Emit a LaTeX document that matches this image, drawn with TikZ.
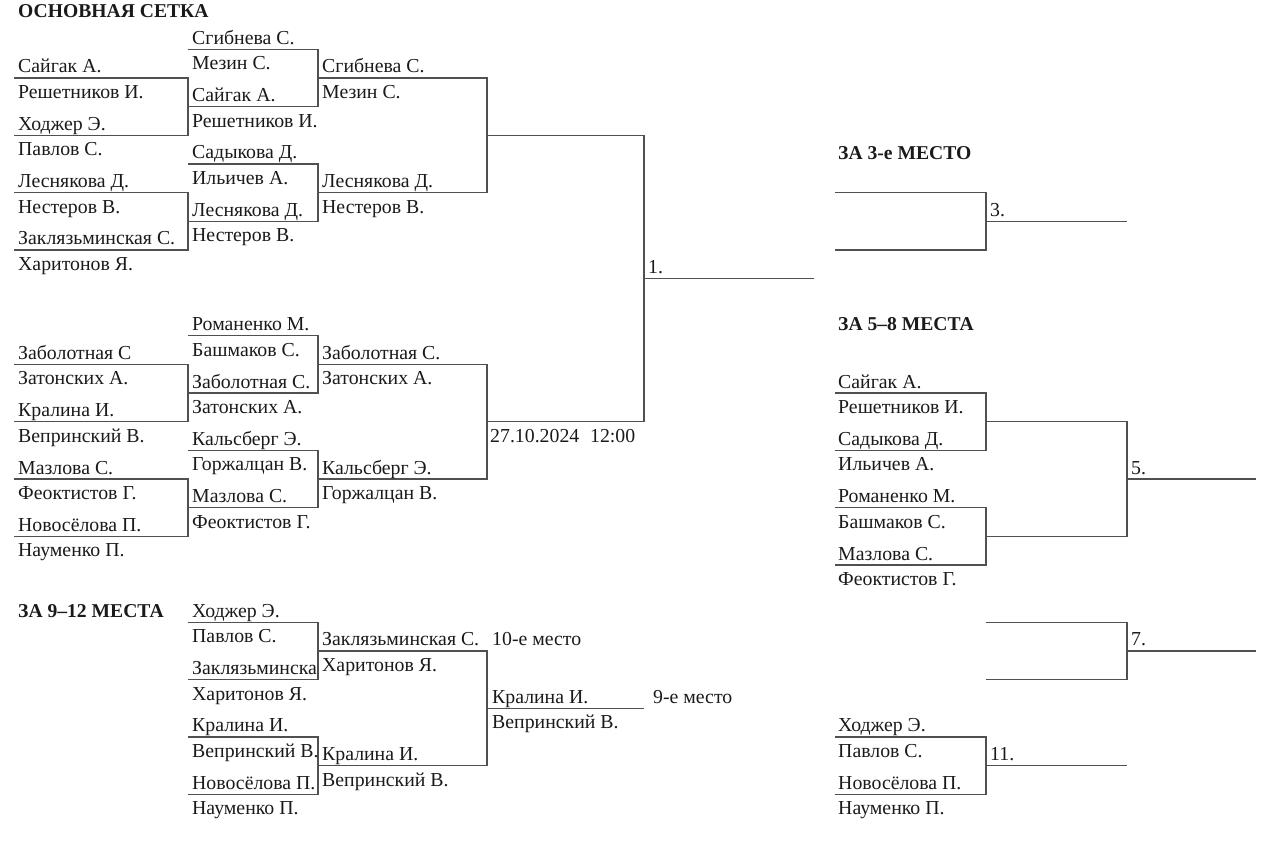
\documentclass[tikz,border=0pt]{standalone}
\usepackage{fontspec}
\setmainfont{Liberation Serif}
\definecolor{lncol}{HTML}{505050}
\definecolor{txcol}{HTML}{1A1A1A}
\newcommand\Yk[1]{(49.3+28.65*(#1))}
\tikzset{
  lbl/.style={anchor=base west, inner sep=0pt, text=txcol, font=\fontsize{19.8}{23}\selectfont},
  hd/.style={lbl, font=\fontsize{19.6}{23}\selectfont\bfseries},
  ln/.style={draw=lncol, line width=1.3pt, line join=miter},
}
\newcommand\lblup[4]{\node[lbl] (#1) at (#2,{\Yk{#3}-5}) {#4};}
\newcommand\lbldn[4]{\node[lbl] (#1) at (#2,{\Yk{#3}+20.5}) {#4};}
\newcommand\bpair[4]{\draw[ln] (#1,{\Yk{#3}}) -| (#2,{\Yk{#4}}) -- (#1,{\Yk{#4}});}
\newcommand\hseg[3]{\draw[ln] (#1,{\Yk{#3}}) -- (#2,{\Yk{#3}});}
\begin{document}
\begin{tikzpicture}[x=1pt,y=-1pt]
\useasboundingbox (0,0) rectangle (1280,854);
% headings
\node[hd] (hmain) at (18,17.5) {ОСНОВНАЯ СЕТКА};
\node[hd] (h3) at (838,159) {ЗА 3-е МЕСТО};
\node[hd] (h58) at (838,330) {ЗА 5–8 МЕСТА};
\node[hd] (h912) at (18,617) {ЗА 9–12 МЕСТА};
% ---------- main bracket lines
\bpair{14}{188}{1}{3}
\bpair{14}{188}{5}{7}
\bpair{188}{318}{0}{2}
\bpair{188}{318}{4}{6}
\bpair{318}{487}{1}{5}
\bpair{487}{644}{3}{13}
\hseg{644}{814}{8}
\bpair{14}{188}{11}{13}
\bpair{14}{188}{15}{17}
\bpair{188}{318}{10}{12}
\bpair{188}{318}{14}{16}
\bpair{318}{487}{11}{15}
% ---------- 9-12 lines
\bpair{188}{318}{20}{22}
\bpair{188}{318}{24}{26}
\bpair{318}{487}{21}{25}
\hseg{487}{644}{23}
% ---------- right side lines
\bpair{835}{986}{5}{7}
\hseg{986}{1127}{6}
\bpair{835}{986}{12}{14}
\bpair{835}{986}{16}{18}
\bpair{986}{1127}{13}{17}
\hseg{1127}{1256}{15}
\bpair{986}{1127}{20}{22}
\hseg{1127}{1256}{21}
\bpair{835}{986}{24}{26}
\hseg{986}{1127}{25}
% ---------- main column A
\lblup{a1}{18}{1}{Сайгак А.}
\lbldn{a2}{18}{1}{Решетников И.}
\lblup{a3}{18}{3}{Ходжер Э.}
\lbldn{a4}{18}{3}{Павлов С.}
\lblup{a5}{18}{5}{Леснякова Д.}
\lbldn{a6}{18}{5}{Нестеров В.}
\lblup{a7}{18}{7}{Заклязьминская С.}
\lbldn{a8}{18}{7}{Харитонов Я.}
\lblup{a9}{18}{11}{Заболотная С}
\lbldn{a10}{18}{11}{Затонских А.}
\lblup{a11}{18}{13}{Кралина И.}
\lbldn{a12}{18}{13}{Вепринский В.}
\lblup{a13}{18}{15}{Мазлова С.}
\lbldn{a14}{18}{15}{Феоктистов Г.}
\lblup{a15}{18}{17}{Новосёлова П.}
\lbldn{a16}{18}{17}{Науменко П.}
% ---------- main column B
\lblup{b1}{192}{0}{Сгибнева С.}
\lbldn{b2}{192}{0}{Мезин С.}
\lblup{b3}{192}{2}{Сайгак А.}
\lbldn{b4}{192}{2}{Решетников И.}
\lblup{b5}{192}{4}{Садыкова Д.}
\lbldn{b6}{192}{4}{Ильичев А.}
\lblup{b7}{192}{6}{Леснякова Д.}
\lbldn{b8}{192}{6}{Нестеров В.}
\lblup{b9}{192}{10}{Романенко М.}
\lbldn{b10}{192}{10}{Башмаков С.}
\lblup{b11}{192}{12}{Заболотная С.}
\lbldn{b12}{192}{12}{Затонских А.}
\lblup{b13}{192}{14}{Кальсберг Э.}
\lbldn{b14}{192}{14}{Горжалцан В.}
\lblup{b15}{192}{16}{Мазлова С.}
\lbldn{b16}{192}{16}{Феоктистов Г.}
% ---------- main column C
\lblup{c1}{322}{1}{Сгибнева С.}
\lbldn{c2}{322}{1}{Мезин С.}
\lblup{c3}{322}{5}{Леснякова Д.}
\lbldn{c4}{322}{5}{Нестеров В.}
\lblup{c5}{322}{11}{Заболотная С.}
\lbldn{c6}{322}{11}{Затонских А.}
\lblup{c7}{322}{15}{Кальсберг Э.}
\lbldn{c8}{322}{15}{Горжалцан В.}
% ---------- final
\lbldn{date}{490}{13}{27.10.2024\hspace{0.55em}12:00}
\lblup{p1}{648}{8}{1.}
% ---------- 9-12 bracket
\lblup{e1}{192}{20}{Ходжер Э.}
\lbldn{e2}{192}{20}{Павлов С.}
\begin{scope}
\clip (188,600) rectangle (318,690);
\lblup{e3}{192}{22}{Заклязьминска}
\end{scope}
\lbldn{e4}{192}{22}{Харитонов Я.}
\lblup{e5}{192}{24}{Кралина И.}
\lbldn{e6}{192}{24}{Вепринский В.}
\lblup{e7}{192}{26}{Новосёлова П.}
\lbldn{e8}{192}{26}{Науменко П.}
\lblup{f1}{322}{21}{Заклязьминская С.}
\lbldn{f2}{322}{21}{Харитонов Я.}
\lblup{f3}{322}{25}{Кралина И.}
\lbldn{f4}{322}{25}{Вепринский В.}
\lblup{g0}{492}{21}{10-е место}
\lblup{g1}{492}{23}{Кралина И.}
\lbldn{g2}{492}{23}{Вепринский В.}
\lblup{g3}{653}{23}{9-е место}
% ---------- right side
\lblup{r3}{990}{6}{3.}
\lblup{s1}{838}{12}{Сайгак А.}
\lbldn{s2}{838}{12}{Решетников И.}
\lblup{s3}{838}{14}{Садыкова Д.}
\lbldn{s4}{838}{14}{Ильичев А.}
\lblup{s5}{838}{16}{Романенко М.}
\lbldn{s6}{838}{16}{Башмаков С.}
\lblup{s7}{838}{18}{Мазлова С.}
\lbldn{s8}{838}{18}{Феоктистов Г.}
\lblup{r5}{1131}{15}{5.}
\lblup{r7}{1131}{21}{7.}
\lblup{t1}{838}{24}{Ходжер Э.}
\lbldn{t2}{838}{24}{Павлов С.}
\lblup{t3}{838}{26}{Новосёлова П.}
\lbldn{t4}{838}{26}{Науменко П.}
\lblup{r11}{990}{25}{11.}
\end{tikzpicture}
\end{document}
